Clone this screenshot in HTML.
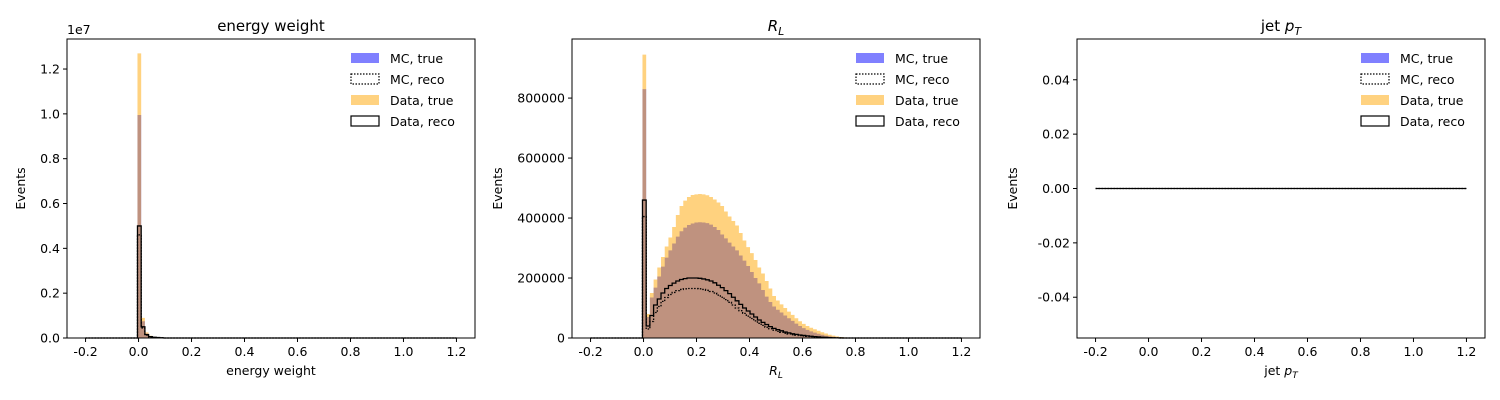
<!DOCTYPE html>
<html><head><meta charset="utf-8"><style>
body{margin:0;background:#fff}
svg{display:block;font-family:"DejaVu Sans","Liberation Sans",sans-serif}
</style></head><body>
<svg id="fig" width="1500" height="400" viewBox="0 0 1500 400" xmlns="http://www.w3.org/2000/svg"></svg>
<script>
const xTicks=[-0.2,0.0,0.2,0.4,0.6,0.8,1.0,1.2];
const binStart=-0.2, binWidth=0.014, nBins=100, firstBin=14;
// energy weight panel (values from bin 14 onward)
const ewDataTrue=[12700000,900000,250000,100000,50000,30000,20000,10000];
const ewMcTrue=[9950000,750000,200000,80000,40000,25000,15000,8000];
const ewDataReco=[5000000,500000,150000,60000,30000,20000,10000];
const ewMcReco=[4600000,450000,130000,50000,25000,15000,8000];
const ewYTicks=[0,0.2,0.4,0.6,0.8,1.0,1.2];
// R_L panel
const rlDataTrue=[945000,80000,150000,195000,235000,270000,305000,335000,370000,410000,440000,458000,470000,477000,479000,480000,479000,476000,470000,462000,452000,440000,422000,405000,390000,375000,350000,325000,303000,283000,260000,235000,215000,190000,165000,140000,125000,112000,100000,88000,77000,66000,56000,47000,40000,34000,29000,24000,19000,15000,11000,8000,5500,3500,2000,1000,400];
const rlMcTrue=[830000,70000,135000,168000,205000,238000,268000,292000,315000,338000,356000,368000,377000,382000,385000,386000,385000,383000,378000,370000,360000,345000,332000,318000,305000,292000,275000,258000,240000,220000,200000,182000,160000,138000,120000,105000,94000,85000,75000,66000,57000,48000,40000,33000,27000,22000,18000,14000,11000,8000,6000,4000,2800,1700,900,350];
const rlDataReco=[460000,40000,75000,110000,130000,150000,165000,175000,183000,190000,195000,198000,200000,200000,200000,199000,197000,194000,190000,184000,176000,168000,158000,148000,136000,124000,112000,100000,90000,80000,70000,60000,52000,45000,38000,32000,28000,24000,20000,17000,14000,12000,10000,8500,7000,5800,4600,3500,2600,1800,1200,700,400,200,100,50];
const rlMcReco=[405000,30000,55000,85000,105000,122000,135000,145000,152000,158000,162000,164000,165000,165000,165000,164000,162000,159000,155000,150000,143000,136000,128000,119000,110000,100000,91000,82000,73000,65000,57000,49000,42000,36000,31000,26000,22000,19000,16000,13500,11000,9500,8000,6800,5600,4600,3700,2800,2000,1400,900,500,300,150,70,30];
const rlYTicks=[0,200000,400000,600000,800000];
// jet pT panel (empty)
const ptYTicks=[-0.04,-0.02,0.00,0.02,0.04];

const svg=document.getElementById('fig');
const NS='http://www.w3.org/2000/svg';
function mk(tag,attrs,parent){const e=document.createElementNS(NS,tag);for(const k in attrs)e.setAttribute(k,attrs[k]);(parent||svg).appendChild(e);return e;}
function full(arr){const a=new Array(nBins).fill(0);arr.forEach((v,i)=>{a[firstBin+i]=v;});return a;}

function panel(o){
  const g=mk('g',{});
  
  
  const L=o.left,R=o.left+408,T=39,B=338;
  const xs=v=>L+(v-(-0.27))/(1.54)*(R-L);
  const ys=v=>B-(v-o.ymin)/(o.ymax-o.ymin)*(B-T);
  function stepD(a){
    let d='M'+xs(binStart)+','+ys(0);
    a.forEach((v,i)=>{const x0=xs(binStart+i*binWidth),x1=xs(binStart+(i+1)*binWidth);d+=' L'+x0+','+ys(v)+' L'+x1+','+ys(v);});
    d+=' L'+xs(binStart+nBins*binWidth)+','+ys(0);
    return d;
  }
  function bars(arr,color,nm){
    const p=mk('path',{d:stepD(full(arr))+' Z',fill:color,'fill-opacity':0.5,stroke:'none'},g);
    
    
  }
  function step(arr,dash,nm){
    const p=mk('path',{d:stepD(full(arr)),fill:'none',stroke:'#000','stroke-width':1.3,'stroke-dasharray':dash||'none'},g);
    
    
  }
  if(o.mcTrue){bars(o.mcTrue,'#0000ff','mc-true');bars(o.dataTrue,'#ffa500','data-true');}
  step(o.mcReco||[], '1.5,1.5','mc-reco');
  step(o.dataReco||[], null,'data-reco');
  const fr=mk('rect',{x:L,y:T,width:R-L,height:B-T,fill:'none',stroke:'#000','stroke-width':1},g);
  
  
  xTicks.forEach(t=>{const x=xs(t);mk('line',{x1:x,x2:x,y1:B,y2:B+4,stroke:'#000'},g);
    const tx=mk('text',{x:x,y:B+18,'font-size':12.5,'text-anchor':'middle'},g);tx.textContent=t.toFixed(1);
    });
  o.yTicks.forEach(t=>{const y=ys(t);mk('line',{x1:L-4,x2:L,y1:y,y2:y,stroke:'#000'},g);
    const tx=mk('text',{x:L-7,y:y+4.5,'font-size':12.5,'text-anchor':'end'},g);tx.textContent=o.fmt(t);
    });
  const yl=mk('text',{x:L-o.ylOff,y:(T+B)/2,'font-size':12.5,'text-anchor':'middle',transform:'rotate(-90 '+(L-o.ylOff)+' '+((T+B)/2)+')'},g);
  yl.textContent='Events';
  const xl=mk('text',{x:(L+R)/2,y:B+37,'font-size':12.5,'text-anchor':'middle'},g);
  xl.innerHTML=o.xlabel;
  const ti=mk('text',{x:(L+R)/2,y:31,'font-size':15,'text-anchor':'middle'},g);
  ti.innerHTML=o.title;
  if(o.offset){const of=mk('text',{x:L,y:34,'font-size':12.5},g);of.textContent=o.offset;}
  const lg=mk('g',{},g);
  const lx=R-124;
  const items=[['MC, true','#8080ff',null],['MC, reco','none','1.5,1.5'],['Data, true','#ffd280',null],['Data, reco','none','none']];
  items.forEach((it,i)=>{const y=53+i*21;
    const r=mk('rect',{x:lx,y:y,width:28,height:10,fill:it[1]=='none'?'#fff':it[1],stroke:it[1]=='none'?'#000':'none','stroke-width':1.2,'stroke-dasharray':it[2]||'none'},lg);
    
    const t=mk('text',{x:lx+39,y:y+10,'font-size':12.5},lg);t.textContent=it[0];
    });
}
panel({name:'energy-weight',left:67,ymin:0,ymax:13340000,yTicks:ewYTicks.map(v=>v*1e7),fmt:v=>(v/1e7).toFixed(1),
  mcTrue:ewMcTrue,dataTrue:ewDataTrue,mcReco:ewMcReco,dataReco:ewDataReco,title:'energy weight',xlabel:'energy weight',ylOff:42,offset:'1e7'});
panel({name:'rl',left:572,ymin:0,ymax:997000,yTicks:rlYTicks,fmt:v=>String(v),
  mcTrue:rlMcTrue,dataTrue:rlDataTrue,mcReco:rlMcReco,dataReco:rlDataReco,
  title:'<tspan font-style="italic">R</tspan><tspan font-style="italic" font-size="11" dy="4">L</tspan>',
  xlabel:'<tspan font-style="italic">R</tspan><tspan font-style="italic" font-size="9" dy="3">L</tspan>',ylOff:70});
panel({name:'jet-pt',left:1077,ymin:-0.055,ymax:0.055,yTicks:ptYTicks,fmt:v=>v.toFixed(2),
  mcReco:[],dataReco:[],title:'jet <tspan font-style="italic">p</tspan><tspan font-style="italic" font-size="11" dy="4">T</tspan>',
  xlabel:'jet <tspan font-style="italic">p</tspan><tspan font-style="italic" font-size="9" dy="3">T</tspan>',ylOff:60});
</script>
</body></html>
